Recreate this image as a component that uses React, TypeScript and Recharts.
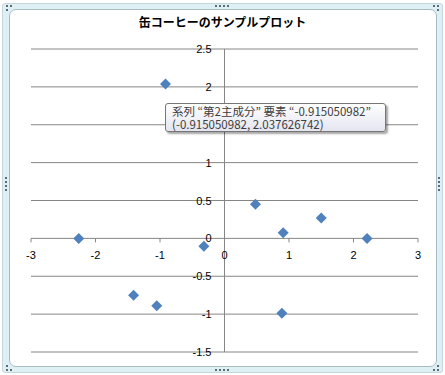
import React from "react"
import { ScatterChart, Scatter, XAxis, YAxis, ReferenceLine, ReferenceDot } from "recharts"

const title = "缶コーヒーのサンプルプロット"
const seriesName = "第2主成分"

// 第1主成分 (x) / 第2主成分 (y)
const pc1 = [-0.915050982, -2.26, -0.32, 0.48, 0.91, 1.5, 2.21, -1.41, -1.05, 0.89]
const pc2 = [2.037626742, 0.0, -0.105, 0.45, 0.075, 0.27, 0.0, -0.75, -0.89, -0.99]

const xTicks = [-3, -2, -1, 0, 1, 2, 3]
const yTicks = [-1.5, -1, -0.5, 0, 0.5, 1, 1.5, 2, 2.5]

const hoverIndex = 0

const data = pc1.map((x, i) => ({ x, y: pc2[i] }))

const AXIS = "#868686"
const MARK = "#4f81bd"
const tickFont = "'Liberation Sans', Arial, sans-serif"

const Diamond = (props: any) => {
  const { cx, cy } = props
  const r = 5.5
  return <path d={`M${cx},${cy - r}L${cx + r},${cy}L${cx},${cy + r}L${cx - r},${cy}Z`} fill={MARK} />
}

const XTickMark = (label: number) => (props: any) => {
  const { cx, cy } = props
  return (
    <g>
      <line x1={cx} y1={cy} x2={cx} y2={cy + 4} stroke={AXIS} />
      <text x={cx} y={cy + 21} textAnchor="middle" fontSize={11} fontFamily={tickFont} fill="#000">
        {label}
      </text>
    </g>
  )
}

const YTickLabel = (label: number) => (props: any) => {
  const { cx, cy } = props
  return (
    <text x={cx - 13} y={cy + 4} textAnchor="end" fontSize={11} fontFamily={tickFont} fill="#000">
      {label}
    </text>
  )
}

const dot = (left: number, top: number, key: string) => (
  <div key={key} style={{ position: "absolute", left, top, width: 2, height: 2, background: "#5d6b73" }} />
)

export default function App() {
  const hx = pc1[hoverIndex]
  const hy = pc2[hoverIndex]
  return (
    <div style={{ position: "fixed", left: 0, top: 0, width: 445, height: 375, background: "#fff", overflow: "hidden" }}>
      {/* frame */}
      <div
        style={{
          position: "absolute", left: 2, top: 3, width: 439, height: 368,
          background: "#dff0f4", border: "1px solid #c6d6dc", borderRadius: 3,
        }}
      />
      <div
        style={{
          position: "absolute", left: 9, top: 9, width: 426, height: 356,
          background: "#fff", border: "1px solid #a9bac2", borderRadius: 7,
        }}
      />
      {[0, 4, 8, 12].map((d) => dot(215 + d, 5, "t" + d))}
      {[0, 4, 8, 12].map((d) => dot(215 + d, 369, "b" + d))}
      {[0, 4, 8, 12].map((d) => dot(5, 177 + d, "l" + d))}
      {[0, 4, 8, 12].map((d) => dot(438, 177 + d, "r" + d))}
      {dot(6, 5, "c1")}{dot(10, 5, "c2")}{dot(6, 9, "c3")}
      {dot(437, 5, "c4")}{dot(433, 5, "c5")}{dot(437, 9, "c6")}
      {dot(6, 369, "c7")}{dot(10, 369, "c8")}{dot(6, 365, "c9")}
      {dot(437, 369, "c10")}{dot(433, 369, "c11")}{dot(437, 365, "c12")}

      <div
        style={{
          position: "absolute", left: 0, width: 445, top: 13, textAlign: "center",
          fontFamily: "'Noto Sans CJK JP', sans-serif", fontWeight: "bold", fontSize: 12, color: "#000",
        }}
      >
        {title}
      </div>

      <div style={{ position: "absolute", left: 0, top: 0 }}>
        <ScatterChart width={445} height={375} margin={{ top: 49, right: 27, bottom: 23, left: 31 }}>
          <XAxis type="number" dataKey="x" domain={[-3, 3]} ticks={xTicks} hide />
          <YAxis type="number" dataKey="y" domain={[-1.5, 2.5]} ticks={yTicks} hide />
          {yTicks.map((v) => (
            <ReferenceLine key={"g" + v} y={v} stroke={AXIS} strokeWidth={1} />
          ))}
          <ReferenceLine x={0} stroke={AXIS} strokeWidth={1} />
          {xTicks.map((v) => (
            <ReferenceDot key={"xt" + v} x={v} y={0} r={0} shape={XTickMark(v)} />
          ))}
          {yTicks.map((v) => (
            <ReferenceDot key={"yt" + v} x={0} y={v} r={0} shape={YTickLabel(v)} />
          ))}
          <Scatter name={seriesName} data={data} shape={Diamond} isAnimationActive={false} />
        </ScatterChart>
      </div>

      {/* hover tip */}
      <div
        style={{
          position: "absolute", left: 165, top: 103, width: 221, height: 29,
          border: "1px solid #767676", borderRadius: 3,
          background: "linear-gradient(#ffffff, #e4e5f0)",
          boxShadow: "2px 2px 2px rgba(0,0,0,0.35)",
          fontFamily: "'Noto Sans CJK JP', sans-serif", fontSize: 11.5, lineHeight: "13px",
          color: "#3c3c3c", padding: "1px 0 0 6px", boxSizing: "border-box", whiteSpace: "nowrap",
        }}
      >
        <div>{`系列 “${seriesName}” 要素 “${hx}”`}</div>
        <div>{`(${hx}, ${hy})`}</div>
      </div>
    </div>
  )
}
